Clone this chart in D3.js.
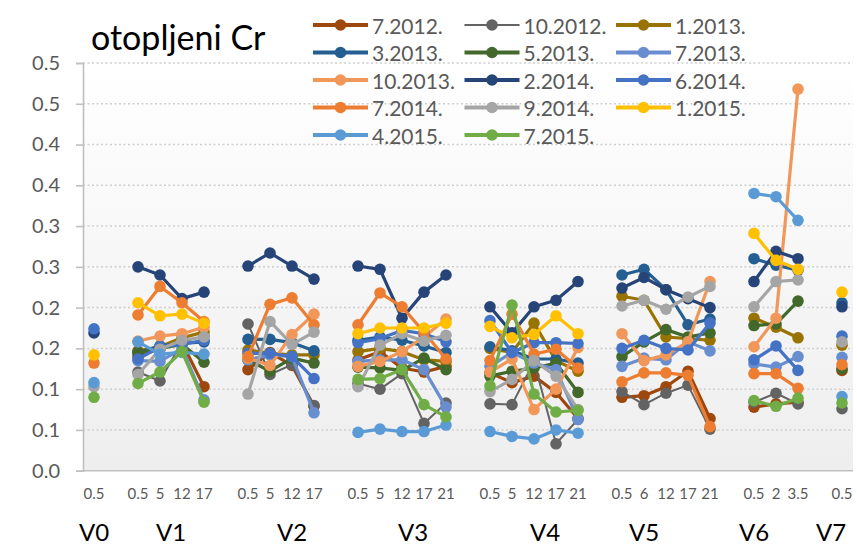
<!DOCTYPE html>
<html>
<head>
<meta charset="utf-8">
<script src="https://cdn.jsdelivr.net/npm/d3@7"></script>
<style>
  body { margin: 0; background: #ffffff; }
  text { font-family: Lato, "Open Sans", sans-serif; }
</style>
</head>
<body>
<div id="chart"></div>
<script>
const _ = null;

// sub category labels (empty entries are the gaps between groups)
const subLabels = ["0.5", "",
  "0.5", "5", "12", "17", "",
  "0.5", "5", "12", "17", "",
  "0.5", "5", "12", "17", "21", "",
  "0.5", "5", "12", "17", "21", "",
  "0.5", "6", "12", "17", "21", "",
  "0.5", "2", "3.5", "",
  "0.5"];

// group labels, spanning category indices
const groupNames = ["V0", "V1", "V2", "V3", "V4", "V5", "V6", "V7"];
const groupSpans = [[0, 0], [1, 6], [7, 11], [11, 18], [19, 22], [24, 26], [28, 32], [33, 34]];

const yTicks = [0, 0.05, 0.1, 0.15, 0.2, 0.25, 0.3, 0.35, 0.4, 0.45, 0.5];
const yTickLabels = ["0.0", "0.1", "0.1", "0.2", "0.2", "0.3", "0.3", "0.4", "0.4", "0.5", "0.5"];

const seriesNames = ["7.2012.", "10.2012.", "1.2013.", "3.2013.", "5.2013.", "7.2013.", "10.2013.",
  "2.2014.", "6.2014.", "7.2014.", "9.2014.", "1.2015.", "4.2015.", "7.2015."];

const s2012_07 = [_, _, 0.140, 0.150, 0.157, 0.103, _, 0.124, 0.145, 0.129, 0.079, _, 0.136, 0.146, 0.126, 0.121, 0.128, _, 0.120, 0.108, 0.116, 0.096, 0.064, _, 0.090, 0.092, 0.103, 0.122, 0.064, _, 0.078, 0.082, 0.084, _, 0.123];
const s2012_10 = [_, _, 0.121, 0.110, 0.158, 0.165, _, 0.180, 0.118, 0.130, 0.080, _, 0.107, 0.100, 0.119, 0.058, 0.083, _, 0.082, 0.081, 0.134, 0.033, 0.063, _, 0.097, 0.081, 0.095, 0.105, 0.051, _, 0.084, 0.095, 0.082, _, 0.076];
const s2013_01 = [_, _, 0.147, 0.152, 0.163, 0.170, _, 0.148, 0.144, 0.142, 0.142, _, 0.146, 0.150, 0.146, 0.136, 0.134, _, 0.150, 0.145, 0.181, 0.135, 0.122, _, 0.214, 0.209, 0.164, 0.162, 0.160, _, 0.187, 0.176, 0.163, _, 0.154];
const s2013_03 = [_, _, 0.145, 0.153, 0.156, 0.158, _, 0.161, 0.161, 0.157, 0.147, _, 0.160, 0.164, 0.160, 0.153, 0.145, _, 0.152, 0.147, 0.137, 0.137, 0.132, _, 0.240, 0.247, 0.222, 0.179, 0.186, _, 0.260, 0.252, 0.246, _, 0.206];
const s2013_05 = [_, _, 0.145, 0.150, 0.155, 0.133, _, 0.136, 0.122, 0.138, 0.132, _, 0.127, 0.126, 0.123, 0.138, 0.124, _, 0.116, 0.122, 0.126, 0.132, 0.096, _, 0.140, 0.158, 0.173, 0.164, 0.169, _, 0.178, 0.180, 0.208, _, 0.125];
const s2013_07 = [_, _, 0.135, 0.134, 0.150, 0.087, _, 0.136, 0.142, 0.140, 0.071, _, 0.134, 0.136, 0.136, 0.124, 0.078, _, 0.128, 0.145, 0.132, 0.124, 0.063, _, 0.128, 0.138, 0.136, 0.158, 0.147, _, 0.131, 0.127, 0.140, _, 0.139];
const s2013_10 = [_, _, 0.159, 0.165, 0.168, 0.176, _, 0.138, 0.129, 0.167, 0.192, _, 0.128, 0.134, 0.146, 0.164, 0.186, _, 0.121, 0.137, 0.075, 0.100, 0.151, _, 0.168, 0.135, 0.142, 0.158, 0.232, _, 0.152, 0.187, 0.468, _, _];
const s2014_02 = [0.169, _, 0.250, 0.240, 0.211, 0.219, _, 0.251, 0.267, 0.251, 0.235, _, 0.251, 0.247, 0.187, 0.219, 0.240, _, 0.201, 0.169, 0.201, 0.209, 0.232, _, 0.224, 0.237, 0.222, 0.211, 0.200, _, 0.232, 0.269, 0.260, _, 0.201];
const s2014_06 = [0.174, _, 0.137, 0.152, 0.155, 0.160, _, 0.144, 0.144, 0.140, 0.113, _, 0.157, 0.162, 0.172, 0.168, 0.158, _, 0.184, 0.145, 0.157, 0.157, 0.156, _, 0.150, 0.160, 0.150, 0.148, 0.181, _, 0.136, 0.153, 0.123, _, 0.165];
const s2014_07 = [0.132, _, 0.191, 0.226, 0.206, 0.183, _, 0.140, 0.204, 0.212, 0.179, _, 0.179, 0.218, 0.201, 0.170, 0.137, _, 0.135, 0.192, 0.143, 0.149, 0.126, _, 0.109, 0.120, 0.120, 0.117, 0.054, _, 0.119, 0.119, 0.101, _, 0.130];
const s2014_09 = [0.103, _, 0.118, 0.149, 0.160, 0.164, _, 0.094, 0.183, 0.155, 0.170, _, 0.103, 0.154, 0.168, 0.159, 0.166, _, 0.097, 0.112, 0.135, 0.116, 0.075, _, 0.202, 0.209, 0.198, 0.213, 0.226, _, 0.201, 0.232, 0.234, _, 0.158];
const s2015_01 = [0.142, _, 0.206, 0.190, 0.192, 0.181, _, _, _, _, _, _, 0.168, 0.175, 0.175, 0.175, 0.181, _, 0.177, 0.163, 0.167, 0.190, 0.168, _, _, _, _, _, _, _, 0.291, 0.258, 0.247, _, 0.219];
const s2015_04 = [0.108, _, 0.158, 0.143, 0.145, 0.143, _, _, _, _, _, _, 0.047, 0.051, 0.048, 0.048, 0.056, _, 0.048, 0.042, 0.039, 0.050, 0.046, _, _, _, _, _, _, _, 0.340, 0.336, 0.307, _, 0.091];
const s2015_07 = [0.090, _, 0.107, 0.121, 0.146, 0.084, _, _, _, _, _, _, 0.112, 0.113, 0.124, 0.081, 0.066, _, 0.104, 0.203, 0.094, 0.072, 0.074, _, _, _, _, _, _, _, 0.086, 0.079, 0.089, _, 0.083];

const seriesValues = [s2012_07, s2012_10, s2013_01, s2013_03, s2013_05, s2013_07, s2013_10,
  s2014_02, s2014_06, s2014_07, s2014_09, s2015_01, s2015_04, s2015_07];

const palette = ["#9E480E", "#636363", "#997300", "#255E91", "#43682B", "#698ED0", "#F1975A",
  "#264478", "#4472C4", "#ED7D31", "#A5A5A5", "#FFC000", "#5B9BD5", "#70AD47"];

const width = 857;
const height = 546;
const margin = { top: 63, right: 4, bottom: 75.3, left: 83 };

const svg = d3.select("#chart")
  .append("svg")
  .attr("width", width)
  .attr("height", height);

svg.append("rect")
  .attr("width", width)
  .attr("height", height)
  .attr("fill", "#ffffff");

const x = d3.scaleBand()
  .domain(d3.range(subLabels.length))
  .range([margin.left, width - margin.right])
  .padding(0);

const y = d3.scaleLinear()
  .domain([0, 0.5])
  .range([height - margin.bottom, margin.top]);

const cx = i => x(i) + x.bandwidth() / 2;

// plot area background gradient
const defs = svg.append("defs");
const grad = defs.append("linearGradient")
  .attr("id", "plotBg")
  .attr("x1", "0%").attr("x2", "0%")
  .attr("y1", "0%").attr("y2", "100%");
grad.append("stop").attr("offset", "0%").attr("stop-color", "#ffffff");
grad.append("stop").attr("offset", "100%").attr("stop-color", "#eeeeee");

svg.append("rect")
  .attr("x", margin.left)
  .attr("y", margin.top)
  .attr("width", width - margin.left - margin.right)
  .attr("height", y(0) - margin.top)
  .attr("fill", "url(#plotBg)");

// gridlines
svg.append("g")
  .selectAll("line")
  .data(yTicks.filter(d => d > 0))
  .enter()
  .append("line")
  .attr("x1", margin.left)
  .attr("x2", width - margin.right)
  .attr("y1", d => y(d))
  .attr("y2", d => y(d))
  .attr("stroke", "#cfcfcf")
  .attr("stroke-width", 1.5)
  .attr("stroke-dasharray", "2,2.5");

// y axis
const yAxis = svg.append("g")
  .attr("transform", `translate(${margin.left},0)`)
  .call(d3.axisLeft(y)
    .tickValues(yTicks)
    .tickFormat((d, i) => yTickLabels[i])
    .tickSize(7)
    .tickPadding(16));

yAxis.select(".domain").attr("stroke", "#bfbfbf").attr("stroke-width", 1.6);
yAxis.selectAll(".tick line").attr("stroke", "#bfbfbf").attr("stroke-width", 1.6);
yAxis.selectAll(".tick text")
  .attr("fill", "#595959")
  .style("font-size", "20px");

// x axis line
svg.append("line")
  .attr("x1", margin.left)
  .attr("x2", width - margin.right)
  .attr("y1", y(0))
  .attr("y2", y(0))
  .attr("stroke", "#bfbfbf")
  .attr("stroke-width", 1.6);

// sub category labels
svg.append("g")
  .selectAll("text")
  .data(subLabels)
  .enter()
  .append("text")
  .attr("x", (d, i) => cx(i))
  .attr("y", 499)
  .attr("text-anchor", "middle")
  .attr("fill", "#595959")
  .style("font-size", "15px")
  .text(d => d);

// group labels
svg.append("g")
  .selectAll("text")
  .data(groupNames)
  .enter()
  .append("text")
  .attr("x", (d, i) => (cx(groupSpans[i][0]) + cx(groupSpans[i][1])) / 2)
  .attr("y", 541)
  .attr("text-anchor", "middle")
  .attr("fill", "#000000")
  .style("font-size", "24px")
  .text(d => d);

// series
const line = d3.line()
  .defined(d => d.v !== null)
  .x(d => cx(d.i))
  .y(d => y(d.v));

seriesValues.forEach((vals, k) => {
  const pts = vals.map((v, i) => ({ i, v }));
  const g = svg.append("g");

  g.append("path")
    .datum(pts)
    .attr("d", line)
    .attr("fill", "none")
    .attr("stroke", palette[k])
    .attr("stroke-width", k === 1 ? 2 : 3.2)
    .attr("stroke-linejoin", "round");

  g.selectAll("circle")
    .data(pts.filter(d => d.v !== null))
    .enter()
    .append("circle")
    .attr("cx", d => cx(d.i))
    .attr("cy", d => y(d.v))
    .attr("r", 5.8)
    .attr("fill", palette[k]);
});

// title
svg.append("text")
  .attr("x", 91)
  .attr("y", 50)
  .attr("fill", "#000000")
  .style("font-size", "34px")
  .text("otopljeni Cr");

// legend
const legend = svg.append("g");
seriesNames.forEach((name, k) => {
  const col = k % 3;
  const row = Math.floor(k / 3);
  const lx = 313 + col * 151.5;
  const ly = 25 + row * 27.5;

  legend.append("line")
    .attr("x1", lx)
    .attr("x2", lx + 55)
    .attr("y1", ly)
    .attr("y2", ly)
    .attr("stroke", palette[k])
    .attr("stroke-width", k === 1 ? 2 : 4);

  legend.append("circle")
    .attr("cx", lx + 27.5)
    .attr("cy", ly)
    .attr("r", 5.8)
    .attr("fill", palette[k]);

  legend.append("text")
    .attr("x", lx + 59)
    .attr("y", ly)
    .attr("dominant-baseline", "central")
    .attr("fill", "#595959")
    .style("font-size", "21px")
    .text(name);
});
</script>
</body>
</html>
